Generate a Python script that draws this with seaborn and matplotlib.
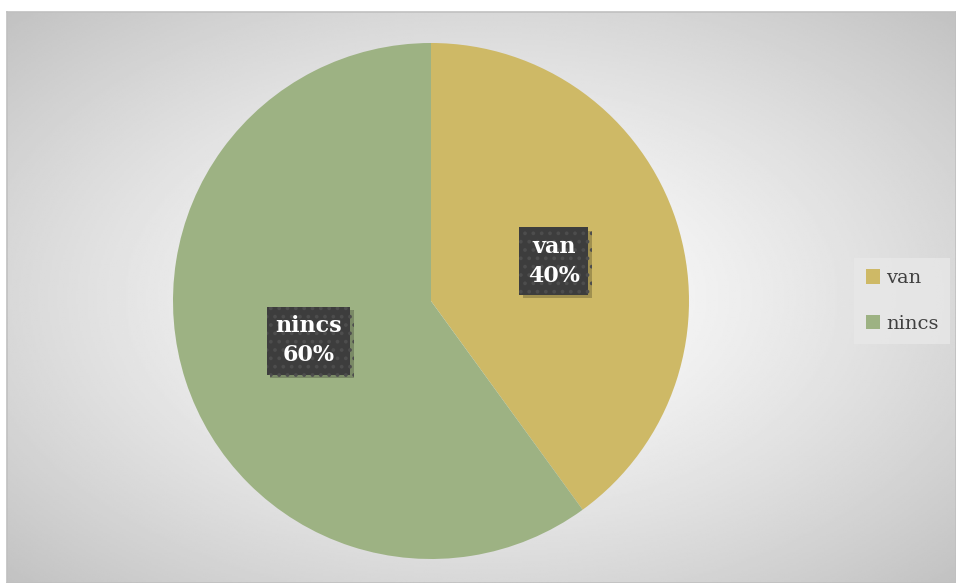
import numpy as np
import matplotlib
matplotlib.use("Agg")
import matplotlib.pyplot as plt
import matplotlib.patheffects as pe
import seaborn as sns

labels = ["van", "nincs"]
shares = [40, 60]
colors = ["#CEB966", "#9DB283"]

sns.set_style("white")
plt.rcParams["font.family"] = ["DejaVu Serif"]
plt.rcParams["hatch.linewidth"] = 1.5

fig = plt.figure(figsize=(9.56, 5.83), dpi=100)
W, H = 956, 583

# chart area background with radial shading
bg = fig.add_axes([7 / W, 0, 949 / W, 571 / H])
yy, xx = np.mgrid[-1:1:300j, -1:1:500j]
r = np.sqrt(xx ** 2 + yy ** 2) / np.sqrt(2)
shade = 1 - 0.24 * r ** 1.3
bg.imshow(shade, cmap="gray", vmin=0, vmax=1, extent=[0, 1, 0, 1], aspect="auto")
bg.set_xticks([])
bg.set_yticks([])
for s in bg.spines.values():
    s.set_color("#c0c0c0")
    s.set_linewidth(1.2)

ax = fig.add_axes([173 / W, 24 / H, 516 / W, 516 / H])
wedges, texts = ax.pie(shares, colors=colors, startangle=90, counterclock=False,
                       radius=1, wedgeprops=dict(linewidth=0))
ax.set_xlim(-1, 1)
ax.set_ylim(-1, 1)
ax.set_aspect("equal")
ax.axis("off")

for w, lab, val in zip(wedges, labels, shares):
    mid = np.deg2rad((w.theta1 + w.theta2) / 2)
    t = ax.text(0.5 * np.cos(mid), 0.5 * np.sin(mid), f"{lab}\n{val}%",
                ha="center", va="center", color="white", fontsize=16,
                fontweight="bold", linespacing=1.4,
                bbox=dict(boxstyle="square,pad=0.38", fc="#3d3d3d",
                          ec="#4d4d4d", lw=0, hatch=".."))
    t.get_bbox_patch().set_path_effects(
        [pe.SimplePatchShadow(offset=(2.5, -2.5), shadow_rgbFace="#000000", alpha=0.22), pe.Normal()])

handles = [plt.Rectangle((0, 0), 1, 1, fc=c, ec="none") for c in colors]
leg = fig.legend(handles, labels, loc="center", bbox_to_anchor=(902 / W, 1 - 301 / H),
                 frameon=True, fontsize=14, labelspacing=1.4, handlelength=0.75,
                 handleheight=0.75, handletextpad=0.3, borderpad=0.6, fancybox=False)
leg.get_frame().set_facecolor("#e8e8e8")
leg.get_frame().set_edgecolor("none")
for t in leg.get_texts():
    t.set_color("#404040")

fig.savefig("out.png", dpi=100)
